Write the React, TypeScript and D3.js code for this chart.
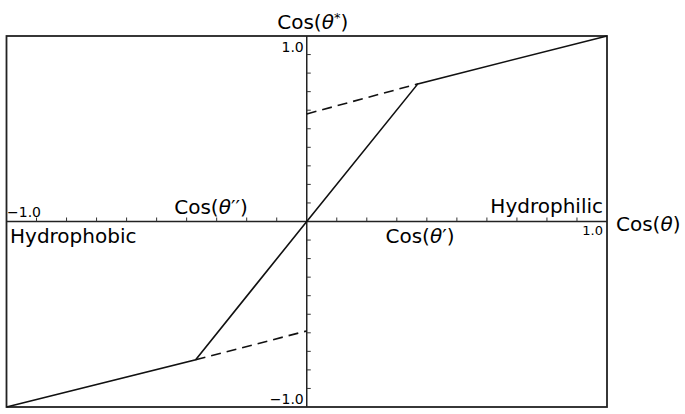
import * as d3 from 'd3'

// cos(theta) -> cos(theta*) : solid curve and dashed extensions
const solidX = [-1, -0.37, 0, 0.37, 1]
const solidY = [-1, -0.745, 0, 0.742, 1]
const dashUpperX = [0, 0.37]
const dashUpperY = [0.58, 0.742]
const dashLowerX = [-0.37, 0]
const dashLowerY = [-0.745, -0.59]
const tickValues = d3.range(-9, 10).filter(v => v !== 0).map(v => v / 10)

const W = 685
const H = 414
const font = '"DejaVu Sans", Verdana, sans-serif'

export default function App() {
  const x = d3.scaleLinear().domain([-1, 1]).range([6.5, 607])
  const y = d3.scaleLinear().domain([-1, 1]).range([407, 36])

  const line = d3
    .line<[number, number]>()
    .x(d => x(d[0]))
    .y(d => y(d[1]))

  const zip = (xs: number[], ys: number[]) => xs.map((v, i) => [v, ys[i]] as [number, number])

  const x0 = x(0)
  const y0 = y(0)
  const fs = 20

  return (
    <div style={{ position: 'absolute', left: 0, top: 0 }}>
      <svg width={W} height={H} style={{ display: 'block', background: 'white' }} fontFamily={font}>
        {/* frame */}
        <rect
          x={x(-1)}
          y={y(1)}
          width={x(1) - x(-1)}
          height={y(-1) - y(1)}
          fill="none"
          stroke="#222"
          strokeWidth={1.8}
        />
        {/* axes */}
        <line x1={x(-1)} x2={x(1)} y1={y0} y2={y0} stroke="#222" strokeWidth={1.5} />
        <line x1={x0} x2={x0} y1={y(1)} y2={y(-1)} stroke="#222" strokeWidth={1.5} />
        {tickValues.map(t => (
          <line key={'x' + t} x1={x(t)} x2={x(t)} y1={y0} y2={y0 - 4} stroke="#333" strokeWidth={1} />
        ))}
        {tickValues.map(t => (
          <line key={'y' + t} x1={x0} x2={x0 + 4} y1={y(t)} y2={y(t)} stroke="#333" strokeWidth={1} />
        ))}

        {/* curves */}
        <path d={line(zip(solidX, solidY)) ?? ''} fill="none" stroke="#111" strokeWidth={1.6} />
        <path
          d={line(zip(dashUpperX, dashUpperY)) ?? ''}
          fill="none"
          stroke="#111"
          strokeWidth={1.6}
          strokeDasharray="10,6"
        />
        <path
          d={line(zip(dashLowerX, dashLowerY)) ?? ''}
          fill="none"
          stroke="#111"
          strokeWidth={1.6}
          strokeDasharray="10,6"
        />

        {/* labels */}
        <text x={x0 + 6} y={29} fontSize={fs} textAnchor="middle" fill="#000">
          Cos(<tspan fontStyle="italic">θ</tspan>
          <tspan fontSize={13} dy={-7}>*</tspan>
          <tspan dy={7}>)</tspan>
        </text>
        <text x={616} y={231} fontSize={fs} fill="#000">
          Cos(<tspan fontStyle="italic">θ</tspan>)
        </text>
        <text x={603} y={213} fontSize={fs} textAnchor="end" fill="#000">
          Hydrophilic
        </text>
        <text x={10} y={243} fontSize={fs} fill="#000">
          Hydrophobic
        </text>
        <text x={211} y={214} fontSize={fs} textAnchor="middle" fill="#000">
          Cos(<tspan fontStyle="italic">θ</tspan>′′)
        </text>
        <text x={420} y={243} fontSize={fs} textAnchor="middle" fill="#000">
          Cos(<tspan fontStyle="italic">θ</tspan>′)
        </text>
        <text x={7} y={217} fontSize={14} fill="#000">
          −1.0
        </text>
        <text x={603} y={235} fontSize={13} textAnchor="end" fill="#000">
          1.0
        </text>
        <text x={x0 - 3} y={52} fontSize={14} textAnchor="end" fill="#000">
          1.0
        </text>
        <text x={x0 - 3} y={404} fontSize={14} textAnchor="end" fill="#000">
          −1.0
        </text>
      </svg>
    </div>
  )
}
